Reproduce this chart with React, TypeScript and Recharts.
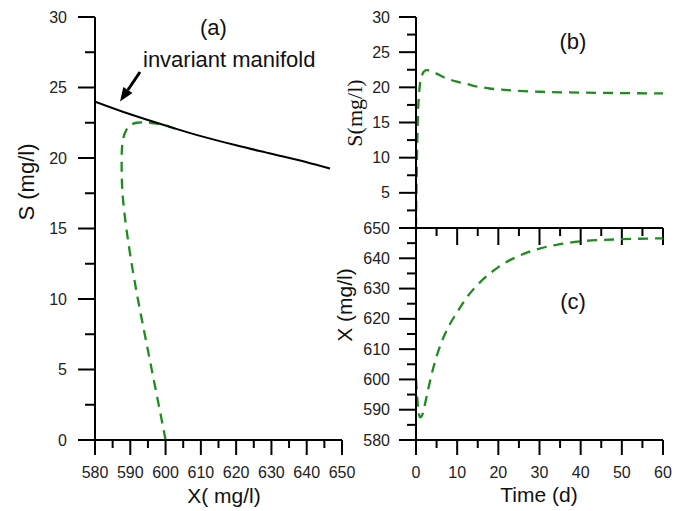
import { LineChart, Line, XAxis, YAxis, ReferenceLine } from "recharts";

const GREEN = "#1e8c1e";
const SANS = "'Liberation Sans', Arial, sans-serif";
const SERIF = "'Liberation Serif', 'Times New Roman', serif";
const AXIS = { stroke: "#000", strokeWidth: 2 };

// (a) phase plane: invariant manifold and trajectory
const manifoldX = [580, 590, 600, 610, 620, 630, 640, 646.6];
const manifoldS = [24.0, 23.1, 22.3, 21.55, 20.9, 20.3, 19.7, 19.25];

const trajX = [
  600, 598.6, 597.1, 595.6, 594.1, 592.6, 591.2, 590.0, 589.0, 588.2, 587.7,
  587.55, 587.6, 588.0, 588.9, 590.2, 591.8, 593.6, 595.6, 598, 600.5, 603,
];
const trajS = [
  0, 1.8, 3.7, 5.6, 7.5, 9.4, 11.3, 13.1, 14.8, 16.4, 17.9, 19.3, 20.5, 21.4,
  22.0, 22.35, 22.5, 22.52, 22.5, 22.42, 22.28, 22.05,
];

// (b) substrate over time
const timeS = [
  0, 0.15, 0.3, 0.5, 0.75, 1, 1.4, 1.8, 2.5, 3.5, 5, 6.5, 8, 10, 12.5, 15,
  17.5, 20, 25, 30, 40, 50, 60,
];
const sValues = [
  0, 7, 12, 16.5, 19.2, 20.6, 21.6, 22.15, 22.45, 22.35, 21.95, 21.5, 21.15,
  20.8, 20.45, 20.1, 19.87, 19.7, 19.5, 19.37, 19.25, 19.18, 19.13,
];

// (c) biomass over time
const timeX = [
  0, 0.3, 0.6, 1, 1.5, 2, 3, 4, 5, 6, 7, 8, 10, 12.5, 15, 20, 25, 30, 35, 40,
  50, 60,
];
const xValues = [
  600, 594, 589.5, 587.5, 588.2, 590.8, 597, 602.8, 607.6, 611.6, 614.9,
  617.7, 622.2, 627.4, 631.3, 637.1, 640.8, 643.2, 644.7, 645.6, 646.3, 646.6,
];

const phaseTicks = [580, 585, 590, 595, 600, 605, 610, 615, 620, 625, 630, 635, 640, 645, 650];
const sTicks = [0, 2.5, 5, 7.5, 10, 12.5, 15, 17.5, 20, 22.5, 25, 27.5, 30];
const timeTicks = [0, 5, 10, 15, 20, 25, 30, 35, 40, 45, 50, 55, 60];
const xTicks = [580, 585, 590, 595, 600, 605, 610, 615, 620, 625, 630, 635, 640, 645, 650];

const zip = (xs: number[], ys: number[]) => xs.map((x, i) => ({ x, y: ys[i] }));

const manifold = zip(manifoldX, manifoldS);
const trajectory = zip(trajX, trajS);
const sSeries = zip(timeS, sValues);
const xSeries = zip(timeX, xValues);

function yTick(step: number, minorLen: number, gap: number, hidden: number[] = []) {
  return function Tick(props: any) {
    const { x, y, payload } = props;
    const v = payload.value as number;
    const major = Math.abs(v % step) < 1e-6;
    const len = major ? 17 : minorLen;
    return (
      <g>
        <line x1={x - len} y1={y} x2={x} y2={y} stroke="#000" strokeWidth={2} />
        {major && !hidden.includes(v) && (
          <text x={x - gap} y={y} dy="0.35em" textAnchor="end" fontFamily={SANS} fontSize={16} fill="#222">
            {v}
          </text>
        )}
      </g>
    );
  };
}

function xTick(step: number, majorLen: number, minorLen: number, labels = true) {
  return function Tick(props: any) {
    const { x, y, payload } = props;
    const v = payload.value as number;
    const major = Math.abs(v % step) < 1e-6;
    const len = major ? majorLen : minorLen;
    return (
      <g>
        <line x1={x} y1={y} x2={x} y2={y + len} stroke="#000" strokeWidth={2} />
        {labels && major && (
          <text x={x} y={y + 38} textAnchor="middle" fontFamily={SANS} fontSize={16} fill="#222">
            {v}
          </text>
        )}
      </g>
    );
  };
}

function ArrowShape(props: any) {
  const { x1, y1, x2, y2 } = props;
  const dx = x2 - x1;
  const dy = y2 - y1;
  const len = Math.hypot(dx, dy) || 1;
  const ux = dx / len;
  const uy = dy / len;
  const head = 14;
  const half = 5.5;
  const bx = x2 - ux * head;
  const by = y2 - uy * head;
  return (
    <g>
      <line x1={x1} y1={y1} x2={bx} y2={by} stroke="#000" strokeWidth={3} />
      <polygon
        points={`${x2},${y2} ${bx - uy * half},${by + ux * half} ${bx + uy * half},${by - ux * half}`}
        fill="#000"
      />
    </g>
  );
}

export default function App() {
  return (
    <div style={{ position: "absolute", left: 0, top: 0, width: 685, height: 511, background: "#fff" }}>
      {/* (a) */}
      <div style={{ position: "absolute", left: 0, top: 0 }}>
        <LineChart width={360} height={511} margin={{ top: 17, right: 18, bottom: 0, left: 0 }}>
          <XAxis
            type="number"
            dataKey="x"
            domain={[580, 650]}
            ticks={phaseTicks}
            interval={0}
            height={71}
            tickSize={0}
            tickMargin={0}
            tickLine={false}
            axisLine={AXIS}
            tick={xTick(10, 15, 8)}
            allowDataOverflow
          />
          <YAxis
            type="number"
            domain={[0, 30]}
            ticks={sTicks}
            interval={0}
            width={95}
            tickSize={0}
            tickMargin={0}
            tickLine={false}
            axisLine={AXIS}
            tick={yTick(5, 10, 28)}
            allowDataOverflow
          />
          <ReferenceLine
            segment={[
              { x: 592.75, y: 26.1 },
              { x: 587.1, y: 24.0 },
            ]}
            shape={ArrowShape}
          />
          <Line
            data={trajectory}
            dataKey="y"
            type="natural"
            stroke={GREEN}
            strokeWidth={2.3}
            strokeDasharray="10 7"
            dot={false}
            isAnimationActive={false}
          />
          <Line
            data={manifold}
            dataKey="y"
            type="monotone"
            stroke="#000"
            strokeWidth={2}
            dot={false}
            isAnimationActive={false}
          />
        </LineChart>
      </div>

      {/* (b) */}
      <div style={{ position: "absolute", left: 340, top: 0 }}>
        <LineChart width={345} height={260} margin={{ top: 17, right: 22, bottom: 0, left: 0 }}>
          <XAxis
            type="number"
            dataKey="x"
            domain={[0, 60]}
            ticks={timeTicks}
            interval={0}
            height={32}
            tickSize={0}
            tickMargin={0}
            tickLine={false}
            axisLine={AXIS}
            tick={xTick(10, 17, 8, false)}
            allowDataOverflow
          />
          <YAxis
            type="number"
            domain={[0, 30]}
            ticks={sTicks}
            interval={0}
            width={76}
            tickSize={0}
            tickMargin={0}
            tickLine={false}
            axisLine={AXIS}
            tick={yTick(5, 9, 26, [0])}
            allowDataOverflow
          />
          <Line
            data={sSeries}
            dataKey="y"
            type="monotone"
            stroke={GREEN}
            strokeWidth={2.3}
            strokeDasharray="10 7"
            dot={false}
            isAnimationActive={false}
          />
        </LineChart>
      </div>

      {/* (c) */}
      <div style={{ position: "absolute", left: 340, top: 0 }}>
        <LineChart width={345} height={511} margin={{ top: 228, right: 22, bottom: 0, left: 0 }}>
          <XAxis
            type="number"
            dataKey="x"
            domain={[0, 60]}
            ticks={timeTicks}
            interval={0}
            height={71}
            tickSize={0}
            tickMargin={0}
            tickLine={false}
            axisLine={AXIS}
            tick={xTick(10, 15, 8)}
            allowDataOverflow
          />
          <YAxis
            type="number"
            domain={[580, 650]}
            ticks={xTicks}
            interval={0}
            width={76}
            tickSize={0}
            tickMargin={0}
            tickLine={false}
            axisLine={AXIS}
            tick={yTick(10, 9, 26)}
            allowDataOverflow
          />
          <Line
            data={xSeries}
            dataKey="y"
            type="monotone"
            stroke={GREEN}
            strokeWidth={2.3}
            strokeDasharray="10 7"
            dot={false}
            isAnimationActive={false}
          />
        </LineChart>
      </div>

      {/* titles and annotations */}
      <svg
        width={685}
        height={511}
        style={{ position: "absolute", left: 0, top: 0, pointerEvents: "none" }}
        fontFamily={SANS}
        fill="#111"
      >
        <text x={213.5} y={35} fontSize={22} textAnchor="middle">(a)</text>
        <text x={143} y={67} fontSize={22}>invariant manifold</text>
        <text x={573} y={49} fontSize={22} textAnchor="middle">(b)</text>
        <text x={573} y={309} fontSize={22} textAnchor="middle">(c)</text>
        <text x={224} y={503} fontSize={21} textAnchor="middle">X( mg/l)</text>
        <text x={539} y={502} fontSize={21} textAnchor="middle">Time (d)</text>
        <text x={34} y={182} fontSize={22} textAnchor="middle" transform="rotate(-90 34 182)">
          S (mg/l)
        </text>
        <text
          x={362}
          y={113}
          fontSize={22}
          fontFamily={SERIF}
          textAnchor="middle"
          transform="rotate(-90 362 113)"
        >
          S(mg/l)
        </text>
        <text x={352} y={305} fontSize={21} textAnchor="middle" transform="rotate(-90 352 305)">
          X (mg/l)
        </text>
      </svg>
    </div>
  );
}
